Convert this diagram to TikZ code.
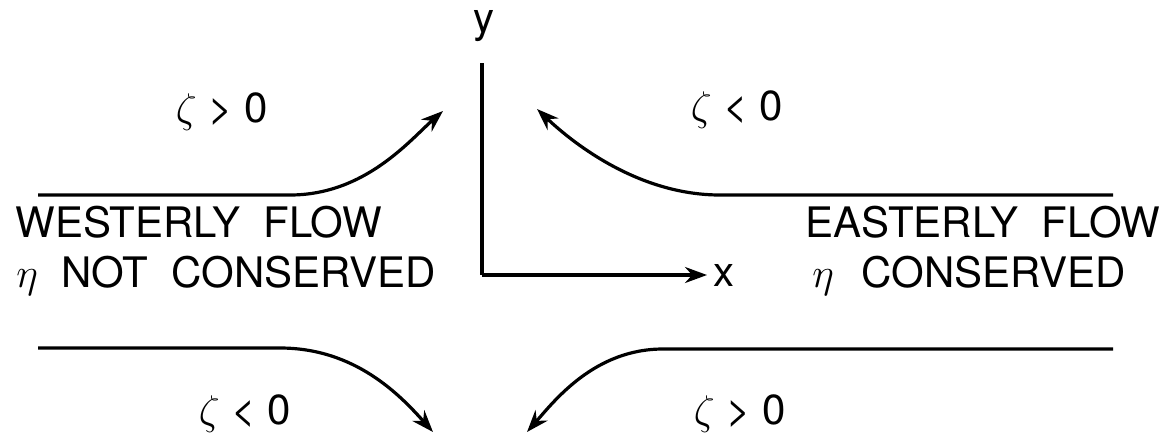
\documentclass[tikz,border=0pt]{standalone}
\usepackage{fontspec}
\setmainfont{TeX Gyre Heros}
\usetikzlibrary{positioning,arrows.meta,calc}

\begin{document}
\begin{tikzpicture}[x=0.5pt, y=-0.5pt, font=\fontsize{21}{25}\selectfont,
    every node/.style={inner sep=0pt},
    flow/.style={line width=1.6pt, -{Stealth[length=11pt,width=8pt]}},
    axis/.style={line width=1.6pt}]
  \useasboundingbox (0,0) rectangle (1161,440);
  % axes
  \coordinate (o) at (482,275);
  \coordinate (ytop) at (482,63);
  \coordinate (xtip) at (707,275);
  \draw[axis] (ytop) -- (o);
  \draw[axis, -{Stealth[length=11pt,width=8pt]}] (o) -- (xtip);
  \node (ylab) at (484,26) {y};
  \node[anchor=base] (xlab) at (724,286) {x};
  % flow lines
  \coordinate (nw0) at (38,195);   \coordinate (nw1) at (290,195);  \coordinate (nw2) at (443,111);
  \coordinate (ne0) at (1113,195); \coordinate (ne1) at (720,195);  \coordinate (ne2) at (537,109);
  \coordinate (sw0) at (38,348);   \coordinate (sw1) at (280,348);  \coordinate (sw2) at (433,432);
  \coordinate (se0) at (1113,349); \coordinate (se1) at (663,349);  \coordinate (se2) at (527,432);
  \draw[flow] (nw0) -- (nw1) .. controls (365,195) and (410,140) .. (nw2);
  \draw[flow] (ne0) -- (ne1) .. controls (640,195) and (575,145) .. (ne2);
  \draw[flow] (sw0) -- (sw1) .. controls (355,348) and (400,395) .. (sw2);
  \draw[flow] (se0) -- (se1) .. controls (595,349) and (555,400) .. (se2);
  % vorticity labels
  \node (znw) at (222,112) {$\zeta$\ >\ 0};
  \node (zne) at (737,110) {$\zeta$\ <\ 0};
  \node (zsw) at (245,414) {$\zeta$\ <\ 0};
  \node (zse) at (740,414) {$\zeta$\ >\ 0};
  % flow names
  \node[anchor=base west] (west) at (15,237) {WESTERLY\ \ FLOW};
  \node[anchor=base west] (westeta) at (16,287) {$\eta$\ \ NOT\ \ CONSERVED};
  \node[anchor=base west] (east) at (805,237) {EASTERLY\ \ FLOW};
  \node[anchor=base west] (easteta) at (812,287) {$\eta$\hspace{14pt}CONSERVED};
\end{tikzpicture}
\end{document}
